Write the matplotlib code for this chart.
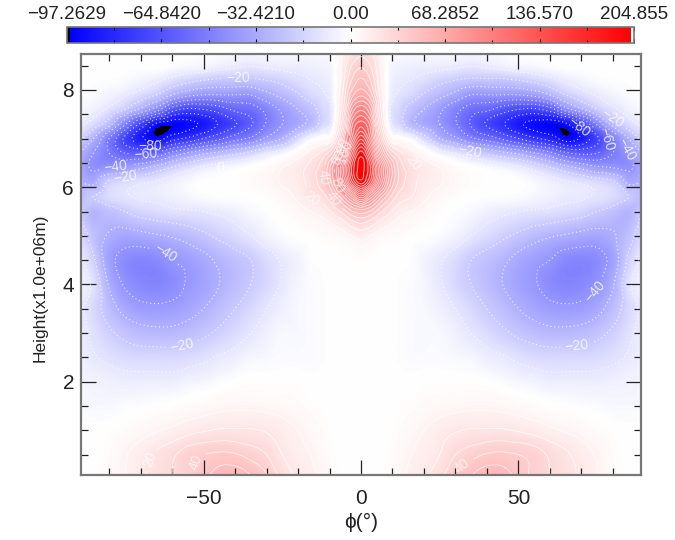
import numpy as np
import matplotlib
matplotlib.use('Agg')
import matplotlib.pyplot as plt
import matplotlib.tri as mtri
from matplotlib.cm import ScalarMappable
from matplotlib.colors import LinearSegmentedColormap, TwoSlopeNorm

plt.rcParams['font.family'] = ['Liberation Sans', 'DejaVu Sans']

# values, one half of the (symmetric) field
phi_half = [0, 3, 6, 9, 12, 16, 20, 25, 30, 35, 40, 45, 50, 55, 60, 65, 70, 75, 80, 85, 89]
height = [0.08, 0.5, 1, 1.5, 2, 2.5, 3, 3.5, 4, 4.5, 5, 5.5, 5.8, 6.1, 6.4, 6.7, 7, 7.3, 7.6, 7.9, 8.2, 8.5, 8.74]
field_half = [
    [0, 0, 1, 3, 7, 13, 18, 26, 41, 50, 57, 56, 46, 37, 30, 24, 18, 10, 4, 1, 0],
    [0, 0, 0, 2, 5, 10, 14, 20, 30, 36, 41, 42, 40, 36, 28, 22, 15, 9, 3, 0, 0],
    [0, 0, 0, 1, 3, 6, 10, 15, 19, 21, 21, 21, 19, 16, 12, 9, 6, 3, 1, 0, 0],
    [0, 0, 0, 0, 1, 2, 4, 6, 7, 8, 8, 7, 5, 3, 1, 0, -1, -2, -3, -3, -3],
    [0, 0, 0, 0, 0, 0, 1, 1, 1, 1, 0, -2, -4, -5, -7, -7, -7, -7, -6, -5, -4],
    [0, 0, 0, 0, -1, -2, -2, -2, -3, -4, -7, -9, -12, -14, -15, -15, -15, -14, -12, -9, -6],
    [0, 0, 0, 0, -1, -2, -3, -3, -6, -10, -14, -18, -22, -25, -27, -27, -26, -23, -18, -12, -7],
    [0, 0, 0, 0, -1, -2, -3, -6, -10, -15, -20, -25, -30, -34, -37, -38, -37, -33, -25, -15, -8],
    [0, 0, 0, 0, -1, -2, -4, -9, -15, -20, -25, -30, -35, -39, -44, -46, -45, -41, -31, -12, -5],
    [2, 1, 1, 0, 0, -1, -5, -9, -14, -20, -24, -28, -33, -37, -40, -45, -46, -44, -36, -18, -8],
    [14, 10, 6, 4, 3, 1, 0, -2, -5, -10, -14, -18, -22, -26, -29, -31, -33, -34, -31, -24, -14],
    [55, 48, 33, 22, 14, 10, 6, 2, -1, -3, -6, -8, -10, -11, -12, -14, -16, -20, -24, -28, -21],
    [125, 95, 65, 42, 26, 20, 12, 6, 2, 0, -1, -1, -2, -4, -6, -8, -9, -11, -14, -20, -25],
    [195, 165, 110, 65, 38, 24, 16, 11, 6, 3, 1, 0, 0, -3, -6, -9, -11, -14, -18, -32, -30],
    [203, 180, 120, 70, 38, 24, 16, 10, 3, 0, -2, -5, -8, -13, -19, -26, -32, -38, -40, -42, -33],
    [195, 155, 85, 42, 24, 14, 4, -5, -10, -17, -22, -27, -32, -39, -47, -58, -62, -60, -50, -40, -30],
    [158, 120, 55, 8, 2, -4, -15, -30, -38, -48, -54, -62, -70, -78, -84, -94.5, -88, -72, -50, -30, -18],
    [125, 105, 35, -6, -15, -27, -33, -40, -49, -61, -71, -79, -88, -93, -95.5, -92, -72, -48, -26, -14, -8],
    [98, 80, 24, -8, -15, -24, -30, -38, -47, -55, -58, -65, -70, -72, -65, -45, -32, -20, -12, -6, -3],
    [68, 55, 18, -5, -11, -15, -21, -27, -33, -40, -40, -40, -40, -37, -30, -20, -14, -9, -5, -2, -1],
    [52, 40, 14, -4, -8, -10, -13, -17, -20, -22, -22, -22, -20, -17, -13, -8, -5, -2, -1, -0.5, 0],
    [38, 30, 12, -3, -5, -6, -7, -7, -8, -9.5, -8, -6, -4, -3, -1.5, 0, 0, 0, 0, 0, 0],
    [28, 22, 10, -1, -2, -3, -3, -3, -3, -4, -3, -2, -1, 0, 0, 0, 0, 0, 0, 0, 0],
]

vmin = -97.2629
vmax = 204.855
cbar_ticks = [-97.2629, -64.8420, -32.4210, 0, 68.2852, 136.570, 204.855]
cbar_labels = ['\u221297.2629', '\u221264.8420', '\u221232.4210', '0.00', '68.2852', '136.570', '204.855']
cbar_minor = [-81.05, -48.63, -16.21, 34.14, 102.43, 170.71]
neg_labelled = [-80, -60, -40, -20]
neg_plain = [-90, -70, -50, -30, -10]
pos_labelled = [20, 40, 60, 80, 100, 120, 140, 160]
pos_plain = [10, 30, 50, 70, 90, 110, 130, 150, 170, 180, 190, 200]

# contour label spots (phi, height)
neg_spots = [(-39, 8.25), (34.6, 6.77), (80.6, 7.5), (-75, 6.3), (-57, 2.8), (68.6, 2.78),
             (-78, 6.45), (85, 6.8), (-62, 4.65), (71, 4.03),
             (-68.5, 6.72), (78, 7.0), (-67, 6.9), (69.5, 7.25)]
pos_spots = [(-18, 5.55), (18.7, 6.6), (-70, 0.43), (-10, 5.7), (-56.5, 0.43), (30, 0.43),
             (-11, 6.2), (-7.5, 6.05), (-6.5, 6.6), (-6, 6.75), (-5, 6.85)]

phi = np.concatenate([-np.array(phi_half[:0:-1]), phi_half])
field = np.array(field_half, dtype=float)
field = np.hstack([field[:, :0:-1], field])

# smooth drawing of the hand read grid with matplotlib's own refiner
xx, yy = np.meshgrid(phi, height)
tri = mtri.Triangulation(xx.ravel(), yy.ravel())
interp = mtri.CubicTriInterpolator(tri, field.ravel(), kind='geom')
tri_fine, field_fine = mtri.UniformTriRefiner(tri).refine_field(field.ravel(), triinterpolator=interp, subdiv=3)

# IDL style table: black first entry, white last entry
cmap = LinearSegmentedColormap.from_list('bwr_idl', [
    (0.0, 'black'), (0.0045, 'black'), (0.0046, '#0000ff'), (0.5, 'white'),
    (0.995, '#ff0000'), (0.9951, 'white'), (1.0, 'white')], N=1024)
cmap.set_under('black')
cmap.set_over('#ff0000')
norm = TwoSlopeNorm(vmin=vmin, vcenter=0, vmax=vmax)
fill_levels = np.concatenate([np.linspace(vmin, 0, 128), np.linspace(0, 203, 128)[1:]])

W, H = 675, 540
fig = plt.figure(figsize=(W / 100, H / 100), dpi=100)
ax = fig.add_axes([81 / W, 1 - 475 / H, (641 - 81) / W, (475 - 54) / H])
ax.tricontourf(tri_fine, field_fine, levels=fill_levels, cmap=cmap, norm=norm, extend='both')

dotted = [(0, (1, 2.5))]
ax.tricontour(tri_fine, field_fine, levels=neg_plain, colors='white', linewidths=0.8, linestyles=dotted, alpha=0.8)
cs_neg = ax.tricontour(tri_fine, field_fine, levels=neg_labelled, colors='white', linewidths=0.8, linestyles=dotted, alpha=0.8)
ax.tricontour(tri_fine, field_fine, levels=pos_plain, colors='white', linewidths=0.7, linestyles='solid', alpha=0.7)
cs_pos = ax.tricontour(tri_fine, field_fine, levels=pos_labelled, colors='white', linewidths=0.7, linestyles='solid', alpha=0.7)


def fmt_level(v):
    return f'{v:.0f}'.replace('-', '\u2212')


ax.clabel(cs_neg, manual=neg_spots, fmt=fmt_level, fontsize=10, colors='white')
ax.clabel(cs_pos, manual=pos_spots, fmt=fmt_level, fontsize=10, colors='white')
ax.text(-44.8, 6.4, '0', color='white', fontsize=10, alpha=0.8, ha='center', va='center')

ax.set_xlim(-88.9, 88.9)
ax.set_ylim(0.08, 8.74)
ax.set_xticks([-50, 0, 50])
ax.set_xticklabels(['\u221250', '0', '50'])
ax.set_xticks(np.arange(-80, 81, 10), minor=True)
ax.set_yticks([2, 4, 6, 8])
ax.set_yticks(np.arange(0.5, 8.6, 0.5), minor=True)
ax.tick_params(which='major', direction='in', length=11, width=0.9, top=True, right=True, labelsize=15, color='#222222', labelcolor='#222222')
ax.tick_params(axis='x', which='major', pad=10)
ax.tick_params(axis='y', which='major', pad=5)
ax.tick_params(which='minor', direction='in', length=5, width=0.9, top=True, right=True, color='#222222')
ax.set_xlabel('\u03d5(\u00b0)', fontsize=15, color='#222222')
ax.xaxis.set_label_coords(0.5, -0.09)
ax.set_ylabel('Height(x1.0e+06m)', fontsize=12.5, color='#222222')
ax.yaxis.set_label_coords(-0.06, 0.445)
for s in ax.spines.values():
    s.set_color('#777777')
    s.set_linewidth(1.6)

cax = fig.add_axes([67 / W, 1 - 43 / H, (634 - 67) / W, 16 / H])
cbar = fig.colorbar(ScalarMappable(norm=norm, cmap=cmap), cax=cax, orientation='horizontal')
cbar.set_ticks(cbar_ticks)
cbar.set_ticklabels(cbar_labels)
cax.set_xticks(cbar_minor, minor=True)
cax.tick_params(which='major', direction='in', length=3, width=0.8, top=True, bottom=True,
                labeltop=True, labelbottom=False, labelsize=13.5, pad=3, labelcolor='#222222')
cax.tick_params(which='minor', direction='in', length=2, width=0.8, top=True, bottom=True)
cbar.outline.set_edgecolor('#777777')
cbar.outline.set_linewidth(1.2)

fig.savefig('out.png', dpi=100)
